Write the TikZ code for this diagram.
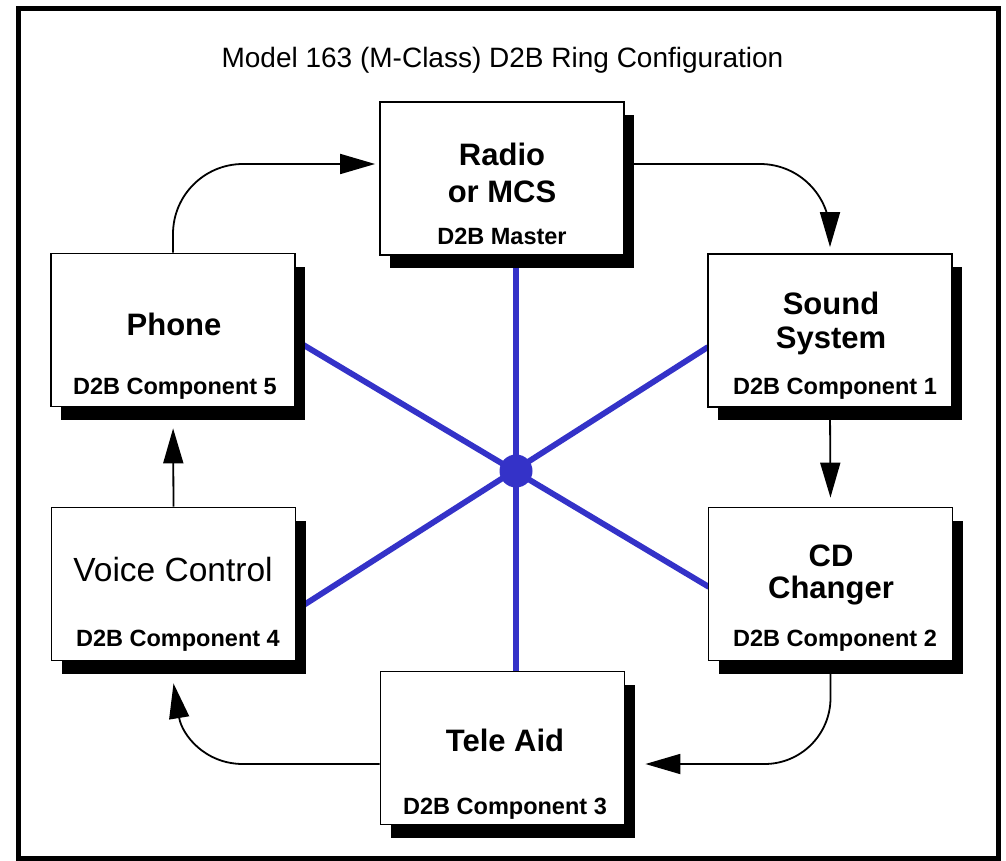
\documentclass[tikz,border=0pt]{standalone}
\usepackage{fontspec}
\setmainfont{Liberation Sans}
\usetikzlibrary{arrows.meta,shadows,backgrounds}
\definecolor{busblue}{RGB}{52,50,200}
\tikzset{
  box/.style={draw=black, line width=1.8pt, fill=white, minimum width=244pt, minimum height=153pt, inner sep=0pt,
    drop shadow={shadow xshift=10pt, shadow yshift=-13pt, fill=black, opacity=1}},
  ttl/.style={font=\fontsize{31}{36}\selectfont\bfseries, anchor=base, inner sep=0pt},
  ttlr/.style={font=\fontsize{33.5}{36}\selectfont, anchor=base, inner sep=0pt},
  sub/.style={font=\fontsize{23.5}{28}\selectfont\bfseries, anchor=base, inner sep=0pt},
  ring/.style={line width=1.8pt, -{Triangle[length=35pt,width=20pt]}},
  bus/.style={line width=5.8pt, busblue},
}
\begin{document}
\begin{tikzpicture}[x=1pt,y=-1pt]
\useasboundingbox (0,0) rectangle (1006,861);
% frame
\draw[line width=5pt] (18.5,8.5) rectangle (998.5,858.5);
% title
\node[anchor=base, inner sep=0pt, font=\fontsize{28}{32}\selectfont] (title) at (502.5,68) {Model 163 (M-Class) D2B Ring Configuration};
% boxes
\node[box] (radio) at (502,178.5) {};
\node[box] (sound) at (830,330.5) {};
\node[box] (phone) at (173,330) {};
\node[box] (voice) at (173.5,584) {};
\node[box] (cd) at (830.5,584) {};
\node[box] (tele) at (502.5,748) {};
% labels
\node[ttl] (radio1) at (502,166) {Radio};
\node[ttl] (radio2) at (502,203) {or MCS};
\node[sub] (radio3) at (502,244) {D2B Master};
\node[ttl] (sound1) at (831,314) {Sound};
\node[ttl] (sound2) at (831,348) {System};
\node[sub] (sound3) at (835,394) {D2B Component 1};
\node[ttl] (phone1) at (174,335) {Phone};
\node[sub] (phone2) at (175,394) {D2B Component 5};
\node[ttlr] (voice1) at (173,581) {Voice Control};
\node[sub] (voice2) at (178,646) {D2B Component 4};
\node[ttl] (cd1) at (831,566) {CD};
\node[ttl] (cd2) at (831,598) {Changer};
\node[sub] (cd3) at (835,646) {D2B Component 2};
\node[ttl] (tele1) at (505,751) {Tele Aid};
\node[sub] (tele2) at (505,814) {D2B Component 3};
% bus end points
\coordinate (bR) at (516,255);
\coordinate (bT) at (516,672);
\coordinate (bP) at (296,340.5);
\coordinate (bS) at (708,347);
\coordinate (bV) at (296,610);
\coordinate (bC) at (709,587);
\begin{pgfonlayer}{background}
  \draw[bus] (bR) -- (bT);
  \draw[bus] (bP) -- (bC);
  \draw[bus] (bV) -- (bS);
  \draw[ring, rounded corners=70pt, shorten >=4pt] (phone.north) |- ([yshift=14.5pt]radio.west);
  \draw[ring, rounded corners=70pt, shorten >=6pt] ([yshift=14.5pt]radio.east) -| (sound.north);
  \draw[ring, shorten >=9pt] (sound.south) -- (cd.north);
  \draw[ring, rounded corners=66pt, shorten >=20pt] (cd.south) |- ([yshift=-16pt]tele.east);
  \draw[ring] ([yshift=-16pt]tele.west) -- (243,764) .. controls (205,764) and (182,735) .. ([yshift=-22pt]voice.south);
  \draw[ring, shorten >=21pt] (voice.north) -- (phone.south);
\end{pgfonlayer}
\node[circle, fill=busblue, minimum size=33pt, inner sep=0pt] (hub) at (516,471) {};
\end{tikzpicture}
\end{document}
